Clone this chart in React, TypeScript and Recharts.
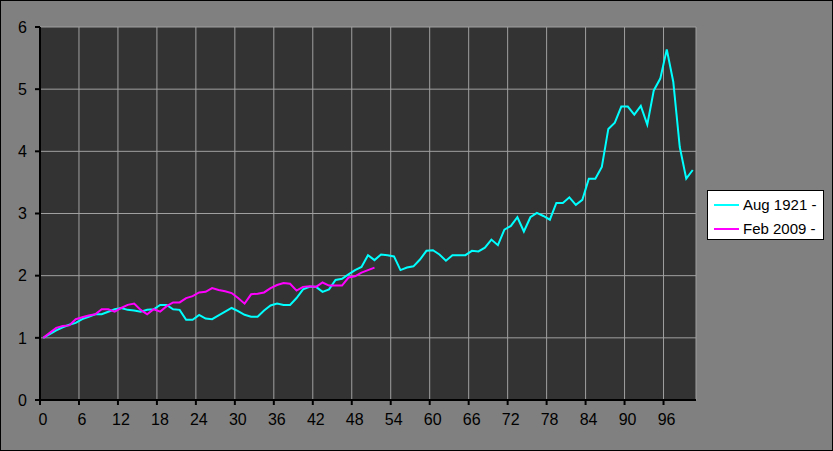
import React from 'react';
import { LineChart, Line, XAxis, YAxis, CartesianGrid } from 'recharts';

const aug1921 = [
  1.0, 1.06, 1.12, 1.17, 1.21, 1.24, 1.3, 1.34, 1.38, 1.38,
  1.42, 1.46, 1.48, 1.45, 1.44, 1.42, 1.45, 1.46, 1.53, 1.53,
  1.46, 1.45, 1.29, 1.29, 1.37, 1.31, 1.3, 1.36, 1.42, 1.48,
  1.43, 1.37, 1.34, 1.34, 1.44, 1.52, 1.55, 1.53, 1.53, 1.64,
  1.78, 1.82, 1.82, 1.74, 1.78, 1.93, 1.95, 2.02, 2.09, 2.14,
  2.33, 2.25, 2.34, 2.33, 2.31, 2.09, 2.13, 2.15, 2.26, 2.4,
  2.41, 2.34, 2.24, 2.33, 2.33, 2.33, 2.4, 2.39, 2.45, 2.58,
  2.49, 2.74, 2.8, 2.94, 2.71, 2.94, 3.01, 2.96, 2.9, 3.17,
  3.17, 3.26, 3.14, 3.22, 3.56, 3.56, 3.75, 4.36, 4.46, 4.72,
  4.72, 4.59, 4.73, 4.43, 4.98, 5.17, 5.64, 5.12, 4.07, 3.56,
  3.7,
];

const feb2009 = [
  1.0, 1.08, 1.16, 1.19, 1.2, 1.3, 1.33, 1.36, 1.38, 1.46,
  1.46, 1.42, 1.48, 1.53, 1.55, 1.45, 1.38, 1.46, 1.42, 1.51,
  1.57, 1.57, 1.64, 1.67, 1.73, 1.74, 1.8, 1.77, 1.75, 1.72,
  1.64, 1.55, 1.7, 1.71, 1.73, 1.8, 1.85, 1.88, 1.87, 1.76,
  1.82, 1.83, 1.82, 1.89, 1.84, 1.84, 1.84, 1.97, 1.99, 2.05,
  2.09, 2.13,
];

const xTicks = [0, 6, 12, 18, 24, 30, 36, 42, 48, 54, 60, 66, 72, 78, 84, 90, 96];
const yTicks = [0, 1, 2, 3, 4, 5, 6];

const seriesNames = ['Aug 1921 -', 'Feb 2009 -'];
const seriesColors = ['#00ffff', '#ff00ff'];

// each month sits in the middle of its category slot, like Excel's "between tick marks"
const data = aug1921.map((v, i) => ({
  month: i + 0.5,
  a: v,
  b: i < feb2009.length ? feb2009[i] : null,
}));

const font = 'Arial, "Liberation Sans", sans-serif';

const LegendBox = () => (
  <div
    style={{
      position: 'absolute',
      left: 706,
      top: 189,
      width: 117,
      height: 50,
      background: '#fff',
      border: '1px solid #000',
      boxSizing: 'border-box',
      paddingTop: 4,
      fontFamily: font,
      fontSize: 15,
      color: '#000',
    }}
  >
    {seriesNames.map((name, i) => (
      <div key={name} style={{ display: 'flex', alignItems: 'center', height: 19, marginBottom: i === 0 ? 5 : 0 }}>
        <span style={{ display: 'inline-block', width: 25, height: 2, background: seriesColors[i], marginLeft: 6, marginRight: 4 }} />
        <span>{name}</span>
      </div>
    ))}
  </div>
);

const App: React.FC = () => {
  return (
    <div
      style={{
        position: 'fixed',
        left: 0,
        top: 0,
        width: 833,
        height: 451,
        background: '#808080',
        border: '1px solid #000',
        boxSizing: 'border-box',
      }}
    >
      <div style={{ position: 'absolute', left: -1, top: -1 }}>
        <LineChart width={833} height={451} data={data} margin={{ top: 27, right: 137, bottom: 0, left: 0 }}>
          <CartesianGrid fill="#333333" stroke="#a0a0a0" strokeWidth={1} />
          <XAxis
            dataKey="month"
            type="number"
            domain={[0, 101]}
            ticks={xTicks}
            interval={0}
            height={51}
            stroke="#000"
            strokeWidth={2}
            tickSize={5}
            tickMargin={9}
            tick={{ fill: '#000', fontSize: 16, fontFamily: font, dx: 3 }}
          />
          <YAxis
            domain={[0, 6]}
            ticks={yTicks}
            interval={0}
            width={40}
            stroke="#000"
            strokeWidth={2}
            tickSize={5}
            tickMargin={8}
            tick={{ fill: '#000', fontSize: 16, fontFamily: font }}
          />
          <Line dataKey="a" name={seriesNames[0]} stroke={seriesColors[0]} strokeWidth={2} dot={false} isAnimationActive={false} />
          <Line dataKey="b" name={seriesNames[1]} stroke={seriesColors[1]} strokeWidth={2} dot={false} isAnimationActive={false} />
        </LineChart>
      </div>
      <LegendBox />
    </div>
  );
};

export default App;
